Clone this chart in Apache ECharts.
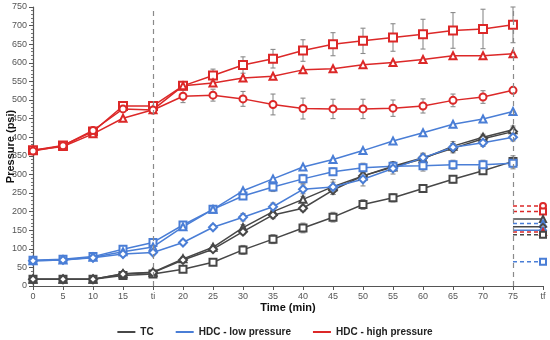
<!DOCTYPE html>
<html><head><meta charset="utf-8">
<script src="https://cdn.jsdelivr.net/npm/echarts@6/dist/echarts.min.js"></script>
<style>html,body{margin:0;padding:0;background:#fff}#c{width:550px;height:340px}</style>
</head><body><div id="c"></div>
<script>
const categories = ['0','5','10','15','ti','20','25','30','35','40','45','50','55','60','65','70','75','tf'];
const yTicks = [0,50,100,150,200,250,300,350,400,450,500,550,600,650,700,750];

const tcSquare   = [18,18,18,28,32,45,64,97,126,156,185,219,237,262,287,310,335];
const tcTriangle = [18,18,18,33,37,73,104,157,200,233,267,296,320,342,376,400,420];
const tcDiamond  = [18,18,18,32,36,70,99,146,191,209,258,296,322,345,370,396,415];
const lowSquare   = [69,72,79,99,117,164,206,242,266,288,307,318,322,323,326,326,330];
const lowTriangle = [68,70,77,92,105,159,206,256,288,320,340,364,390,412,435,449,469];
const lowDiamond  = [68,70,76,86,90,117,158,185,213,260,266,287,316,345,373,385,400];
const highSquare   = [365,378,415,484,484,538,566,594,611,633,650,659,668,677,687,691,702];
const highTriangle = [365,375,409,451,474,538,546,559,564,581,584,595,601,609,619,619,624];
const highCircle   = [363,377,418,476,473,510,513,503,488,477,476,476,478,484,499,508,526];

const tcSquareErr   = [3,3,3,4,4,6,7,12,12,13,13,13,11,10,10,8,15];
const tcTriangleErr = [2,2,2,4,4,5,6,8,10,8,12,10,12,10,12,8,10];
const tcDiamondErr  = [2,2,2,4,4,6,6,8,10,8,12,15,12,10,12,8,10];
const lowSquareErr   = [3,3,4,5,8,6,8,8,12,12,10,12,12,14,12,12,15];
const lowDiamondErr  = [3,3,3,4,5,6,6,10,10,12,20,18,15,12,10,10,10];
const highSquareErr  = [3,3,4,5,8,8,17,22,25,29,31,34,37,40,48,53,48];
const highCircleErr  = [3,3,3,4,6,17,16,20,28,28,26,26,22,19,17,17,6];

// final values at tf
const tfTcSquare = 138, tfTcTriangle = 180, tfTcDiamond = 159;
const tfLowSquare = 65, tfLowTriangle = 168, tfLowDiamond = 150;
const tfHighSquare = 200, tfHighTriangle = 145, tfHighCircle = 215;

const C_TC = '#474747', C_LOW = '#4a7ed6', C_HIGH = '#dc2828';

function lineSeries(name, data, color, symbol, size) {
  return {name, type:'line', data, symbol, symbolSize:size, showSymbol:true,
    itemStyle:{color, borderWidth:1}, lineStyle:{color, width:1.5}, z:3};
}
function errSeries(data, err) {
  return {type:'custom', z:2, silent:true,
    data: data.map((v,i)=>[i, v, err[i]]),
    renderItem(params, api){
      const x = api.value(0), y = api.value(1), e = api.value(2);
      const top = api.coord([x, y+e]), bot = api.coord([x, y-e]);
      const st = {stroke:'#8a8a8a', lineWidth:1.1};
      return {type:'group', children:[
        {type:'line', shape:{x1:top[0],y1:top[1],x2:bot[0],y2:bot[1]}, style:st},
        {type:'line', shape:{x1:top[0]-2.5,y1:top[1],x2:top[0]+2.5,y2:top[1]}, style:st},
        {type:'line', shape:{x1:bot[0]-2.5,y1:bot[1],x2:bot[0]+2.5,y2:bot[1]}, style:st}
      ]};
    }};
}
function tfSeries(v, color, symbol, size, dashed) {
  const d = categories.map(()=>null);
  d[16] = {value:v, symbol:'none'};
  d[17] = {value:v};
  return {type:'line', data:d, symbol, symbolSize:size, connectNulls:false,
    itemStyle:{color, borderWidth:1},
    lineStyle:{color, width:1.5, type: dashed ? [4,3] : 'solid'}, z:3};
}

const chart = echarts.init(document.getElementById('c'));
chart.setOption({
  animation:false,
  textStyle:{fontFamily:'Liberation Sans, Arial, sans-serif'},
  grid:{left:33, right:7, top:7, bottom:54, containLabel:false, outerBoundsMode:'none'},
  legend:{bottom:-2, left:'center', itemWidth:18, itemHeight:2, itemGap:22, icon:'rect',
    textStyle:{fontWeight:'bold', fontSize:10, color:'#222'},
    data:['TC','HDC - low pressure','HDC - high pressure']},
  xAxis:{type:'category', data:categories, boundaryGap:false,
    name:'Time (min)', nameLocation:'middle', nameGap:16, nameMoveOverlap:false,
    nameTextStyle:{fontWeight:'bold', fontSize:11, color:'#111'},
    axisLine:{lineStyle:{color:'#555', width:1.2}},
    axisTick:{show:true, length:4, lineStyle:{color:'#555'}},
    axisLabel:{fontSize:9, color:'#555', margin:6},
    splitLine:{show:false}},
  yAxis:{type:'value', min:yTicks[0], max:yTicks[yTicks.length-1], interval:50,
    name:'Pressure (psi)', nameLocation:'middle', nameGap:17, nameMoveOverlap:false,
    nameTextStyle:{fontWeight:'bold', fontSize:11, color:'#111'},
    axisLine:{show:true, lineStyle:{color:'#555', width:1.2}},
    axisTick:{show:true, length:4, lineStyle:{color:'#555'}},
    minorTick:{show:true, splitNumber:5, length:2, lineStyle:{color:'#777'}},
    axisLabel:{fontSize:9, color:'#555', margin:6},
    splitLine:{show:false}},
  series:[
    {name:'TC', type:'line', data:[], symbol:'none', itemStyle:{color:C_TC}, lineStyle:{color:C_TC}},
    {name:'HDC - low pressure', type:'line', data:[], symbol:'none', itemStyle:{color:C_LOW}, lineStyle:{color:C_LOW}},
    {name:'HDC - high pressure', type:'line', data:[], symbol:'none', itemStyle:{color:C_HIGH}, lineStyle:{color:C_HIGH},
      markLine:{silent:true, symbol:'none', label:{show:false},
        lineStyle:{color:'#8a8a8a', type:[5,4], width:1.2},
        data:[{xAxis:'ti'},{xAxis:'75'}]}},
    errSeries(tcSquare, tcSquareErr),
    errSeries(tcTriangle, tcTriangleErr),
    errSeries(tcDiamond, tcDiamondErr),
    errSeries(lowSquare, lowSquareErr),
    errSeries(lowDiamond, lowDiamondErr),
    errSeries(highSquare, highSquareErr),
    errSeries(highCircle, highCircleErr),
    lineSeries('tcS', tcSquare, C_TC, 'emptyRect', 7),
    lineSeries('tcT', tcTriangle, C_TC, 'emptyTriangle', 7),
    lineSeries('tcD', tcDiamond, C_TC, 'emptyDiamond', 8),
    lineSeries('lowS', lowSquare, C_LOW, 'emptyRect', 7),
    lineSeries('lowT', lowTriangle, C_LOW, 'emptyTriangle', 7),
    lineSeries('lowD', lowDiamond, C_LOW, 'emptyDiamond', 8),
    lineSeries('highS', highSquare, C_HIGH, 'emptyRect', 8),
    lineSeries('highT', highTriangle, C_HIGH, 'emptyTriangle', 7),
    lineSeries('highC', highCircle, C_HIGH, 'emptyCircle', 7),
    tfSeries(tfHighCircle, C_HIGH, 'emptyCircle', 6, true),
    tfSeries(tfHighSquare, C_HIGH, 'emptyRect', 6, true),
    tfSeries(tfTcTriangle, C_TC, 'emptyTriangle', 6, false),
    tfSeries(tfLowTriangle, C_LOW, 'emptyTriangle', 6, true),
    tfSeries(tfTcDiamond, C_TC, 'emptyDiamond', 6, false),
    tfSeries(tfLowDiamond, C_LOW, 'emptyDiamond', 6, false),
    tfSeries(tfHighTriangle, C_HIGH, 'emptyTriangle', 6, true),
    tfSeries(tfTcSquare, C_TC, 'emptyRect', 6, true),
    tfSeries(tfLowSquare, C_LOW, 'emptyRect', 6, true)
  ]
});
</script></body></html>
